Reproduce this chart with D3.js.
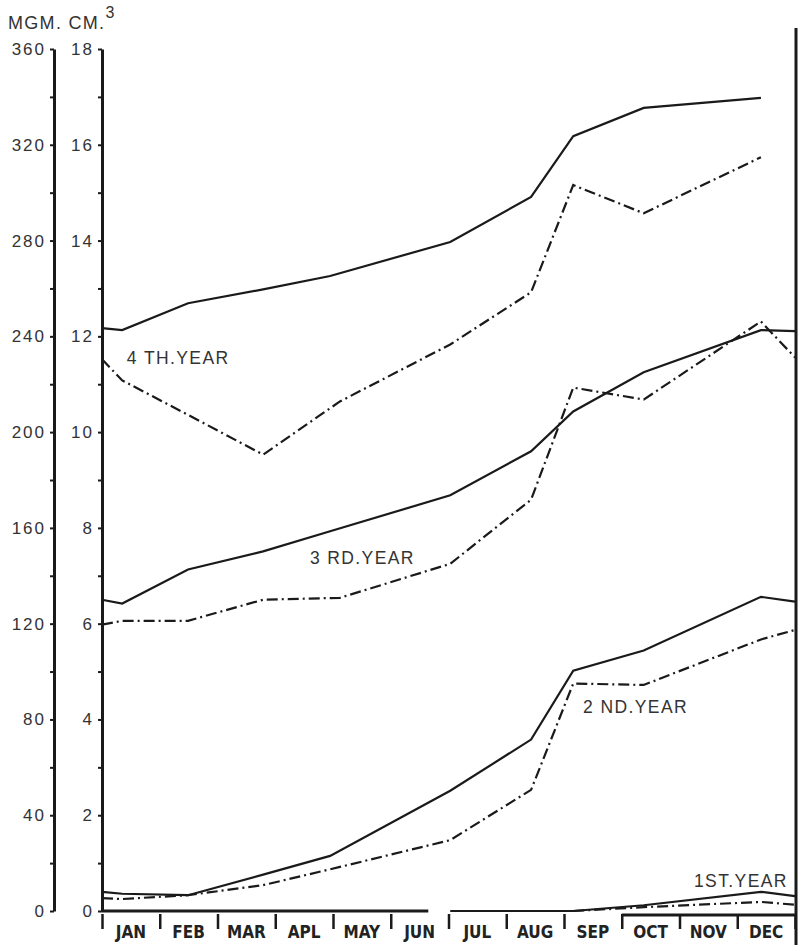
<!DOCTYPE html>
<html><head><meta charset="utf-8">
<script src="https://cdn.jsdelivr.net/npm/d3@7"></script>
<style>body{margin:0;background:#fff} svg{display:block}</style>
</head><body><svg id="chart" width="798" height="945"></svg>
<script>
// ---- data ----
const months = ["JAN","FEB","MAR","APL","MAY","JUN","JUL","AUG","SEP","OCT","NOV","DEC"];
const leftTicks = [0,20,40,60,80,100,120,140,160,180,200,220,240,260,280,300,320,340,360];
const rightTicks = [0,1,2,3,4,5,6,7,8,9,10,11,12,13,14,15,16,17,18];
// sampling times (months from 1 Jan)
const solidT = [0,0.35,1.49,2.79,3.95,6.03,7.43,8.16,9.38,11.41,12];
const dashT  = [0,0.35,1.49,2.79,4.12,6.03,7.43,8.16,9.38,11.41,12];
// solid-line series (cm3)
const year4Solid = [12.17,12.13,12.69,12.98,13.26,13.97,14.91,16.18,16.77,16.98,null];
const year3Solid = [6.50,6.42,7.13,7.51,7.93,8.68,9.60,10.43,11.25,12.13,12.11];
const year2Solid = [0.40,0.36,0.33,0.76,1.15,2.51,3.58,5.02,5.44,6.56,6.46];
const year1Solid = [null,null,null,null,null,0,0,0,0.12,0.40,0.31];
// dash-dot series (mgm)
const year4Dash = [11.52,11.08,10.36,9.53,10.64,11.83,12.92,15.16,14.57,15.74,null];
const year3Dash = [5.98,6.06,6.06,6.50,6.54,7.25,8.59,10.93,10.68,12.31,11.56];
const year2Dash = [0.27,0.25,0.33,0.54,0.92,1.48,2.53,4.75,4.72,5.67,5.87];
const year1Dash = [null,null,null,null,null,null,null,0,0.08,0.19,0.13];
const yearLabels = ["4 TH.YEAR","3 RD.YEAR","2 ND.YEAR","1ST.YEAR"];
const labelPos = [[0.43,11.42],[3.6,7.25],[8.33,4.13],[10.25,0.5]]; // [month, cm3] anchor of label

// ---- layout ----
const svg = d3.select("#chart");
const x = d3.scaleLinear().domain([0,12]).range([102,795]);
const y = d3.scaleLinear().domain([0,18]).range([911,49]);
const yL = d3.scaleLinear().domain([0,360]).range([911,49]);
const ink = "#1a1a1a", txt = "#333";

// right border
svg.append("line").attr("x1",796).attr("x2",796).attr("y1",28).attr("y2",945)
  .attr("stroke",ink).attr("stroke-width",3);

// unit header
const head = svg.append("text").attr("x",8).attr("y",29).attr("fill",txt)
  .attr("font-family","Liberation Sans, Arial, sans-serif").attr("font-size",18).attr("letter-spacing",1.3);
head.append("tspan").text("MGM. CM.");
head.append("tspan").attr("dy",-11).attr("font-size",16).text("3");

// left axis (mgm)
const gL = svg.append("g").attr("transform","translate(54,0)")
  .call(d3.axisLeft(yL).tickValues(leftTicks).tickSize(4).tickSizeOuter(0).tickPadding(4)
    .tickFormat(d => d % 40 === 0 ? d : ""));
// right axis (cm3)
const gR = svg.append("g").attr("transform","translate(102,0)")
  .call(d3.axisLeft(y).tickValues(rightTicks).tickSize(4).tickSizeOuter(0).tickPadding(4)
    .tickFormat(d => d % 2 === 0 ? d : ""));
[gL,gR].forEach(g => {
  g.select(".domain").attr("stroke",ink).attr("stroke-width",3);
  g.selectAll(".tick line").attr("stroke",ink).attr("stroke-width",2);
  g.selectAll(".tick text").attr("fill",txt).attr("font-size",17)
    .attr("font-family","Liberation Sans, Arial, sans-serif").attr("letter-spacing",2);
});

// month axis: baseline segments, boundary ticks, labels
const baseSegs = [[0,5.65,0],[9,12,4]];
baseSegs.forEach(s => svg.append("line")
  .attr("x1",x(s[0])).attr("x2",x(s[1])).attr("y1",y(0)+s[2]).attr("y2",y(0)+s[2])
  .attr("stroke",ink).attr("stroke-width",3));
const gX = svg.append("g").attr("transform",`translate(0,${y(0)})`)
  .call(d3.axisBottom(x).tickValues(d3.range(0,13)).tickSize(18).tickFormat(""));
gX.select(".domain").remove();
gX.selectAll(".tick line").attr("stroke",ink).attr("stroke-width",2.5).attr("y1",3);
svg.append("g").selectAll("text").data(months).join("text")
  .attr("x",(d,i)=>x(i+0.5)).attr("y",938).attr("text-anchor","middle")
  .attr("fill","#222").attr("font-weight","bold").attr("font-size",17)
  .attr("font-family","Liberation Sans Narrow, DejaVu Sans Condensed, sans-serif")
  .text(d=>d);

// series
const line = d3.line().defined(d => d[1] !== null).x(d => x(d[0])).y(d => y(d[1]));
const solids = [year4Solid,year3Solid,year2Solid,year1Solid];
const dashes = [year4Dash,year3Dash,year2Dash,year1Dash];
solids.forEach(s => svg.append("path").datum(solidT.map((t,i)=>[t,s[i]]))
  .attr("d",line).attr("fill","none").attr("stroke",ink).attr("stroke-width",2.2));
dashes.forEach(s => svg.append("path").datum(dashT.map((t,i)=>[t,s[i]]))
  .attr("d",line).attr("fill","none").attr("stroke",ink).attr("stroke-width",2.2)
  .attr("stroke-dasharray","11,4,2,4"));

// year labels
svg.append("g").selectAll("text").data(yearLabels).join("text")
  .attr("x",(d,i)=>x(labelPos[i][0])).attr("y",(d,i)=>y(labelPos[i][1]))
  .attr("fill",txt).attr("font-size",17.5).attr("letter-spacing",1.4)
  .attr("font-family","Liberation Sans, Arial, sans-serif").text(d=>d);
</script></body></html>
